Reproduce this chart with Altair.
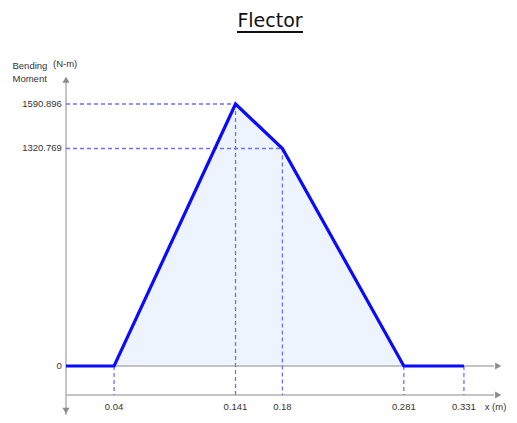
import altair as alt
import pandas as pd

title_text = "Flector"
xs = [0, 0.04, 0.141, 0.18, 0.281, 0.331]
moments = [0, 0, 1590.896, 1320.769, 0, 0]
x_ticks = [0.04, 0.141, 0.18, 0.281, 0.331]
x_tick_tops = [0, 1590.896, 1320.769, 0, 0]
x_tick_labels = ["0.04", "0.141", "0.18", "0.281", "0.331"]
y_ticks = [0, 1320.769, 1590.896]
y_tick_labels = ["0", "1320.769", "1590.896"]
peak_x = [0.141, 0.18]
peak_y = [1590.896, 1320.769]

X_DOM = [0, 0.361]
Y_DOM = [-297.5, 1767]
AXIS2 = -176      # second (lower) horizontal axis line
LABEL_Y = -249    # x tick label row
XEND = 0.356      # end of horizontal axis lines

xs_ = alt.Scale(domain=X_DOM, nice=False, zero=False)
ys_ = alt.Scale(domain=Y_DOM, nice=False, zero=False)

def X(f):
    return alt.X(f, type="quantitative", scale=xs_, axis=None)

def Y(f):
    return alt.Y(f, type="quantitative", scale=ys_, axis=None)

df_line = pd.DataFrame({"x": xs, "m": moments})

area = alt.Chart(df_line).mark_area(color="#eef4fd").encode(x=X("x"), y=Y("m"))

axis_lines = pd.DataFrame({
    "x": [0, 0, 0], "x2": [0, XEND, XEND],
    "y": [Y_DOM[0], 0, AXIS2], "y2": [1745, 0, AXIS2],
})
axes = alt.Chart(axis_lines).mark_rule(color="#b0b0b0", strokeWidth=1.5).encode(
    x=X("x"), x2="x2", y=Y("y"), y2="y2")

arrows_df = pd.DataFrame({
    "x": [0, 0, 0.3595, 0.3595],
    "y": [1738, -272, 0, AXIS2],
    "s": ["triangle-up", "triangle-down", "triangle-right", "triangle-right"],
})
arrows = alt.Chart(arrows_df).mark_point(filled=True, color="#8c8c8c", size=50, opacity=1).encode(
    x=X("x"), y=Y("y"),
    shape=alt.Shape("s:N", scale=None, legend=None))

dash_color = "#7070f6"
vdash = alt.Chart(pd.DataFrame({"x": x_ticks, "top": x_tick_tops, "bot": [AXIS2] * 5})).mark_rule(
    color=dash_color, strokeDash=[4, 3], strokeWidth=1.3).encode(x=X("x"), y=Y("top"), y2="bot")
hdash = alt.Chart(pd.DataFrame({"x0": [0, 0], "x": peak_x, "y": peak_y})).mark_rule(
    color=dash_color, strokeDash=[4, 3], strokeWidth=1.3).encode(x=X("x0"), x2="x", y=Y("y"))

line = alt.Chart(df_line).mark_line(color="#0a0aff", strokeWidth=3.2).encode(x=X("x"), y=Y("m"))

FONT = "Liberation Sans"
ylab = alt.Chart(pd.DataFrame({"x": [-0.0035] * 3, "y": y_ticks, "t": y_tick_labels})).mark_text(
    align="right", baseline="middle", fontSize=9.5, font=FONT, color="#333333").encode(
    x=X("x"), y=Y("y"), text="t:N")
xlab = alt.Chart(pd.DataFrame({"x": x_ticks, "y": [LABEL_Y] * 5, "t": x_tick_labels})).mark_text(
    align="center", baseline="middle", fontSize=9.5, font=FONT, color="#333333").encode(
    x=X("x"), y=Y("y"), text="t:N")

ax_titles = alt.Chart(pd.DataFrame({
    "x": [-0.0445, -0.0445, -0.0108, 0.3483],
    "y": [1822, 1743, 1834, LABEL_Y],
    "t": ["Bending", "Moment", "(N-m)", "x   (m)"],
})).mark_text(align="left", baseline="middle", fontSize=9.5, font=FONT, color="#333333").encode(
    x=X("x"), y=Y("y"), text="t:N")

one = pd.DataFrame({"t": [title_text]})
title = alt.Chart(one).mark_text(align="center", baseline="alphabetic", fontSize=19,
                                 font="DejaVu Sans", color="#111111").encode(
    x=alt.value(204), y=alt.value(-48), text="t:N")
underline = alt.Chart(one).mark_rule(color="#111111", strokeWidth=2).encode(
    x=alt.value(171), x2=alt.value(237), y=alt.value(-43))

chart = alt.layer(area, axes, vdash, hdash, line, arrows, ylab, xlab, ax_titles, title, underline).properties(
    width=434, height=340,
    padding={"left": 58, "top": 67, "right": 9, "bottom": 0},
    autosize=alt.AutoSizeParams(type="none"),
).configure_view(stroke=None)

chart.save("out.html", embed_options={"renderer": "svg", "actions": False})
